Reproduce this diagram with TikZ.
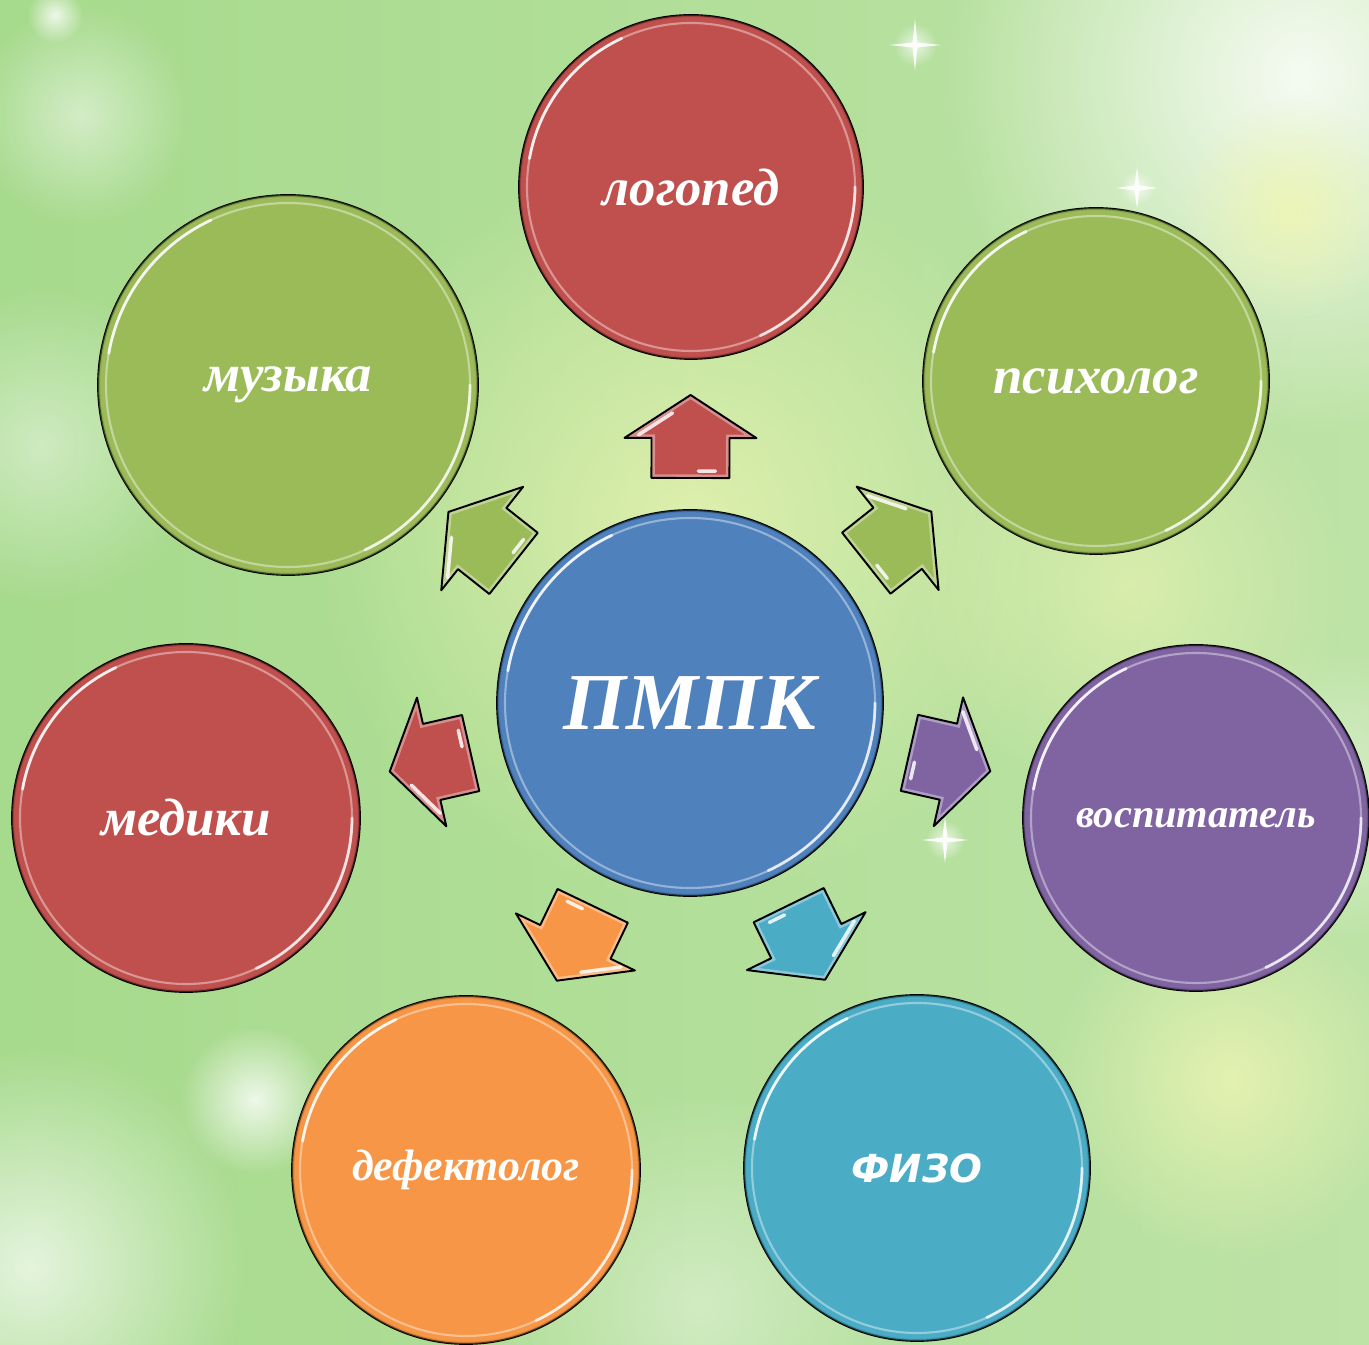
\documentclass[tikz,border=0pt]{standalone}
\usepackage{fontspec}
\setmainfont{Liberation Serif}
\newfontfamily\fizofont{DejaVu Sans}
\usetikzlibrary{calc,fadings}
\definecolor{cred}{HTML}{C0504D}
\definecolor{cgreen}{HTML}{9BBB59}
\definecolor{cblue}{HTML}{4F81BD}
\definecolor{cpurple}{HTML}{8064A2}
\definecolor{corange}{HTML}{F79646}
\definecolor{caqua}{HTML}{4BACC6}
\definecolor{bgleft}{HTML}{A6DA8C}
\definecolor{bgright}{HTML}{BDE3A6}
\definecolor{glowy}{HTML}{EEF5B4}
\tikzfading[name=softblob, inner color=transparent!0, outer color=transparent!100]
\tikzset{
  bubble/.style={circle, inner sep=0pt, draw=black, line width=1.1pt, text=white},
  blockarrow/.style={draw=black, line width=1.1pt, line join=round},
  blob/.style={path fading=softblob},
}
\newcommand\pbubble[7]{% name, x, y, r, color, font, text
  \node[bubble, minimum size=#4*0.04cm, fill=#5, font=#6] (#1) at (#2,#3) {#7};
  \begin{scope}
    \clip (#1.center) circle (#4);
    \draw[#5!75!black, line width=2.5pt, opacity=0.45] (#1.center) circle (#4);
  \end{scope}
  \draw[white, line width=1.2pt, opacity=0.4] (#1.center) circle (#4-8);
  \draw[white, line width=1.6pt, opacity=0.85, line cap=round] ($(#1.center)+(115:#4-8)$) arc (115:170:#4-8);
  \draw[white, line width=1.6pt, opacity=0.75, line cap=round] ($(#1.center)+(-65:#4-8)$) arc (-65:0:#4-8);
}
\newcommand\pmpkarrow[3]{% from, to, colour
  \pgfmathanglebetweenpoints{\pgfpointanchor{#1}{center}}{\pgfpointanchor{#2}{center}}%
  \let\arrang\pgfmathresult
  \begin{scope}[shift={(#1.center)}, rotate=\arrang]
    \fill[#3] (225,-39) -- (265,-39) -- (265,-66) -- (308,0) -- (265,66) -- (265,39) -- (225,39) -- cycle;
    \begin{scope}
      \clip (225,-39) -- (265,-39) -- (265,-66) -- (308,0) -- (265,66) -- (265,39) -- (225,39) -- cycle;
      \draw[#3!55!white, line width=4pt, opacity=0.8] (225,-39) -- (265,-39) -- (265,-66) -- (308,0) -- (265,66) -- (265,39) -- (225,39) -- cycle;
    \end{scope}
    \draw[white, line width=2pt, opacity=0.85, line cap=round] (268,52) -- (290,18);
    \draw[white, line width=2pt, opacity=0.85, line cap=round] (232,-25) -- (232,-8);
    \draw[blockarrow] (225,-39) -- (265,-39) -- (265,-66) -- (308,0) -- (265,66) -- (265,39) -- (225,39) -- cycle;
  \end{scope}
}
\begin{document}
\begin{tikzpicture}[x=0.02cm, y=0.02cm]
\useasboundingbox (0,0) rectangle (1369,1345);
% background
\shade[left color=bgleft, right color=bgright] (0,0) rectangle (1369,1345);
\fill[glowy, opacity=0.75, blob] (690,820) circle (380);
\fill[glowy, opacity=0.6, blob] (1130,760) circle (220);
\fill[white, opacity=0.85, blob] (1300,1270) circle (360);
\fill[glowy, opacity=0.9, blob] (1290,1135) circle (110);
\fill[white, opacity=0.5, blob] (80,1230) circle (110);
\fill[white, opacity=0.8, blob] (55,1330) circle (28);
\fill[white, opacity=0.45, blob] (40,900) circle (160);
\fill[white, opacity=0.7, blob] (30,80) circle (220);
\fill[white, opacity=0.8, blob] (255,245) circle (75);
\fill[glowy, opacity=0.8, blob] (1230,265) circle (180);
\fill[white, opacity=0.4, blob] (700,40) circle (220);
\fill[white, opacity=0.4, blob] (1330,550) circle (150);
\foreach \sx/\sy/\ss in {915/1300/1, 1137/1157/0.8, 945/505/0.9}{
  \fill[white, opacity=0.7, blob] (\sx,\sy) circle (22*\ss);
  \fill[white, opacity=0.9] (\sx,\sy) +(0,26*\ss) -- +(2.5,2.5) -- +(26*\ss,0) -- +(2.5,-2.5) -- +(0,-26*\ss) -- +(-2.5,-2.5) -- +(-26*\ss,0) -- +(-2.5,2.5) -- cycle;
}
% bubbles
\pbubble{c}{690}{642}{193}{cblue}{\bfseries\itshape\fontsize{46}{50}\selectfont}{ПМПК}
\pbubble{logo}{691}{1158}{172}{cred}{\bfseries\itshape\fontsize{30}{36}\selectfont}{логопед}
\pbubble{psy}{1096}{964}{173}{cgreen}{\bfseries\itshape\fontsize{30}{36}\selectfont}{психолог}
\pbubble{muz}{288}{960}{190}{cgreen}{\bfseries\itshape\fontsize{30}{36}\selectfont}{музыка}
\pbubble{med}{186}{527}{174}{cred}{\bfseries\itshape\fontsize{30}{36}\selectfont}{медики}
\pbubble{vos}{1196}{527}{173}{cpurple}{\bfseries\itshape\fontsize{23}{28}\selectfont}{воспитатель}
\pbubble{def}{466}{175}{174}{corange}{\bfseries\itshape\fontsize{25}{30}\selectfont}{дефектолог}
\pbubble{fiz}{917}{177}{173}{caqua}{\fizofont\bfseries\itshape\fontsize{22}{26}\selectfont}{ФИЗО}
% arrows
\pmpkarrow{c}{logo}{cred}
\pmpkarrow{c}{psy}{cgreen}
\pmpkarrow{c}{muz}{cgreen}
\pmpkarrow{c}{med}{cred}
\pmpkarrow{c}{vos}{cpurple}
\pmpkarrow{c}{def}{corange}
\pmpkarrow{c}{fiz}{caqua}
\end{tikzpicture}
\end{document}
